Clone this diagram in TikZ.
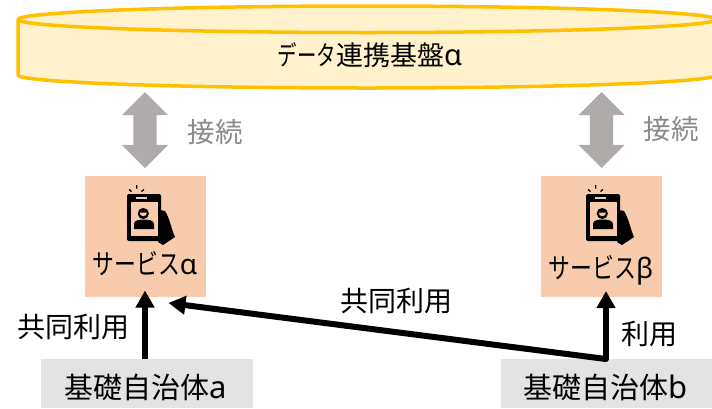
\documentclass[tikz,border=0pt]{standalone}
\usepackage{fontspec}
\usepackage{graphicx}
\usetikzlibrary{arrows.meta,shapes.arrows}
\setmainfont{Noto Sans}
\newfontfamily\jpf{Noto Sans CJK JP}
\definecolor{cylline}{HTML}{FFC000}
\definecolor{cylfill}{HTML}{FFF2CC}
\definecolor{peach}{HTML}{F8CBAD}
\definecolor{lightg}{HTML}{E3E3E3}
\definecolor{arrowg}{HTML}{AFABAB}
\definecolor{labelg}{HTML}{8A8A8A}
\newcommand{\kn}[2][0.76]{\scalebox{#1}[1]{\jpf #2}}
\tikzset{
 x=1pt,y=-1pt,
 txt/.style={inner sep=0pt,text=black,font=\fontsize{28}{32}\selectfont\jpf},
 glabel/.style={txt,text=labelg,font=\fontsize{27.5}{32}\selectfont\jpf},
 svc/.style={fill=peach,minimum width=121pt,minimum height=121pt,inner sep=0pt},
 grayb/.style={fill=lightg,minimum width=212pt,minimum height=49pt,inner sep=0pt},
 link/.style={shape=double arrow,fill=arrowg,rotate=90,inner xsep=0pt,inner ysep=11.5pt,minimum height=76pt,double arrow head extend=11.5pt,double arrow tip angle=90},
 blk/.style={draw=black,line width=6pt,-{Triangle[length=17pt,width=18pt]}},
 phoneicon/.pic={
  \fill[black,rounded corners=2pt] (127,194) rectangle (161,241);
  \fill[peach] (130.5,201.5) rectangle (157.5,235.5);
  \fill[peach] (136,197) rectangle (147,199);
  \fill[black] (143.3,213.5) circle (5.6);
  \fill[peach] (139.6,212.5) arc[start angle=180,end angle=0,radius=3.7] -- cycle;
  \fill[black] (134,229) -- (134,224) .. controls (134,220) and (140,219.5) .. (143.5,219.5) .. controls (147,219.5) and (154,220) .. (154,224) -- (154,229) -- cycle;
  \fill[black] (160,210) -- (165,211) .. controls (170,219) and (171,228) .. (175,237) -- (163,245) -- (158,242) -- (161,238) -- cycle;
  \draw[black,line width=1.3pt] (136.8,188.5) -- (136.8,185) (131.5,191.5) -- (129,189.5) (141.5,191.5) -- (144,189.5);
 },
}
\begin{document}
\begin{tikzpicture}
\useasboundingbox (0,0) rectangle (712,408);
\clip (0,0) rectangle (712,408);
% cylinder
\draw[cylline,fill=cylfill,line width=3.5pt,line join=round] (18,19.5) -- (18,75) arc[start angle=180,end angle=0,x radius=349,y radius=13] -- (716,19.5) arc[start angle=0,end angle=-180,x radius=349,y radius=13.5] -- cycle;
\draw[cylline,line width=3.5pt] (18,19.5) arc[start angle=180,end angle=0,x radius=349,y radius=13];
\node[txt,font=\fontsize{27}{32}\selectfont\jpf] (base) at (370,55) {\kn[0.72]{データ}連携基盤{\rmfamily\fontsize{29}{32}\selectfont α}};
% links
\node[link] (lnkL) at (145,130) {};
\node[link] (lnkR) at (601.5,130) {};
\node[glabel] (conL) at (215,132) {接続};
\node[glabel] (conR) at (671,129) {接続};
% services
\node[svc] (sa) at (145.5,236.5) {};
\node[svc] (sb) at (601.5,236.5) {};
\pic at (0,0) {phoneicon};
\pic at (459,0) {phoneicon};
\node[txt] (saT) at (145,264) {\kn[0.78]{サービス}{\rmfamily α}};
\node[txt] (sbT) at (601,270) {\kn[0.78]{サービス}{\rmfamily β}};
% municipalities
\node[grayb] (ga) at (147,383.5) {};
\node[grayb] (gb) at (606.5,383.5) {};
\node[txt,font=\fontsize{29}{32}\selectfont\jpf] (gaT) at (146,387) {基礎自治体{\rmfamily\fontsize{31}{32}\selectfont a}};
\node[txt,font=\fontsize{29}{32}\selectfont\jpf] (gbT) at (606,387) {基礎自治体{\rmfamily\fontsize{31}{32}\selectfont b}};
% connectors
\coordinate (aFrom) at (145,358.5);
\coordinate (aTo) at (145,290.5);
\coordinate (bFrom) at (606,359);
\coordinate (bTo) at (606,291);
\coordinate (cTo) at (168.5,303);
\draw[blk] (aFrom) -- (aTo);
\draw[blk] (bFrom) -- (bTo);
\draw[blk,line cap=round] (bFrom) -- (cTo);
\node[txt] (l1) at (73,327) {共同利用};
\node[txt] (l2) at (396,301) {共同利用};
\node[txt] (l3) at (649,334) {利用};
\end{tikzpicture}
\end{document}
